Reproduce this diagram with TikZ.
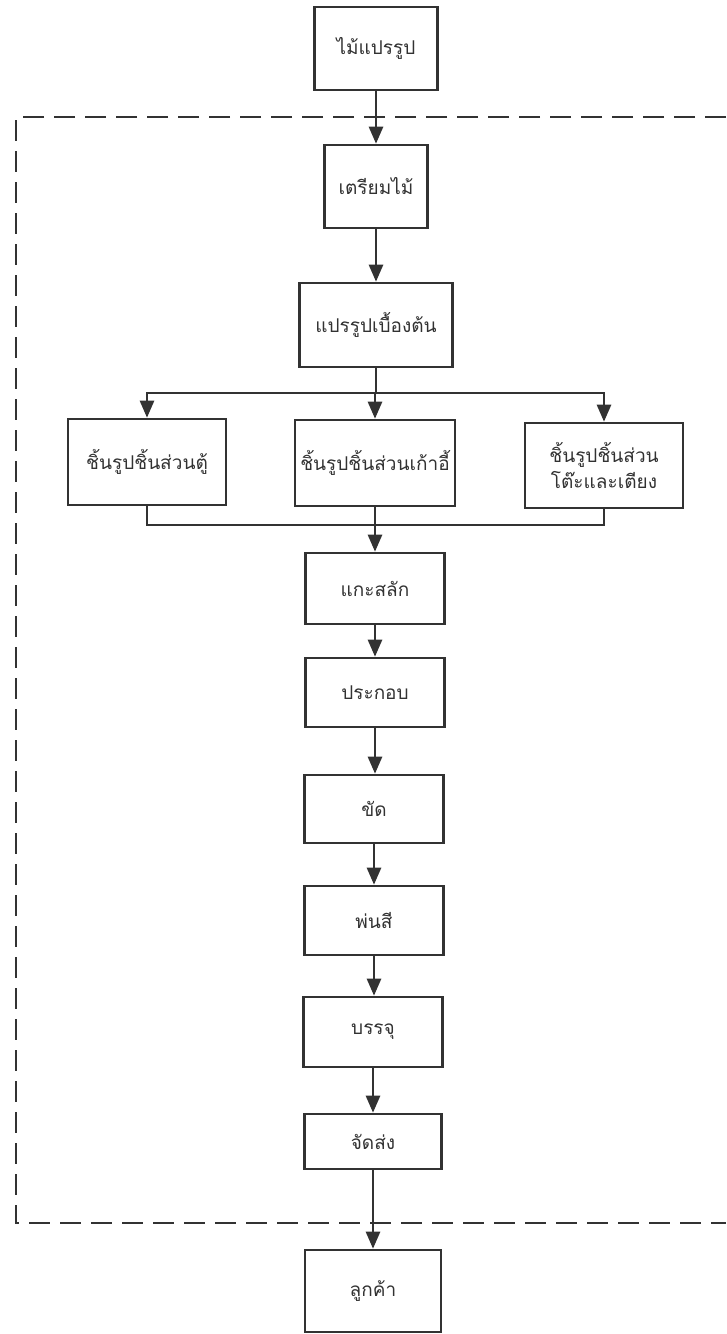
\documentclass[tikz,border=0pt]{standalone}
\usepackage{fontspec}
\newfontfamily\thaifont[Script=Thai]{Loma}
\usetikzlibrary{arrows.meta,positioning,calc}
\definecolor{Ink}{RGB}{50,50,50}

\begin{document}
\begin{tikzpicture} [x=1pt, y=-1pt,
       >={Triangle[length=17pt,width=14pt]}, Ink, text=Ink, line width=2.6pt,
	   every node/.style={font=\thaifont\fontsize{19}{26}\selectfont},
	   stepbox/.style 2 args = {rectangle, draw=Ink, line width=2.6pt,
	                            minimum width=#1, minimum height=#2,
	                            inner sep=0pt, align=center},
	   border/.style = {dashed, dash pattern=on 21pt off 10pt, line width=2.4pt}]
	\useasboundingbox (0,0) rectangle (726,1334);

	%% Process boundary
	\draw[border] (726,117) -- (16,117) -- (16,1223) -- (726,1223);

	%% Main chain
	\node [stepbox={123pt}{83pt}] (raw) at (376,48.5) {ไม้แปรรูป};
	\node [stepbox={103pt}{83pt}] (prep) at (376,186.5) {เตรียมไม้};
	\node [stepbox={153pt}{84pt}] (rough) at (376,325) {แปรรูปเบื้องต้น};

	%% Parts
	\node [stepbox={158pt}{86pt}] (partA) at (147,462) {ชิ้นรูปชิ้นส่วนตู้};
	\node [stepbox={160pt}{86pt}] (partB) at (375,463) {ชิ้นรูปชิ้นส่วนเก้าอี้};
	\node [stepbox={158pt}{85pt}] (partC) at (604,465.5) {ชิ้นรูปชิ้นส่วน\\โต๊ะและเตียง};

	%% Finishing
	\node [stepbox={139pt}{71pt}] (carve) at (375,588.5) {แกะสลัก};
	\node [stepbox={139pt}{69pt}] (assemble) at (375,692.5) {ประกอบ};
	\node [stepbox={139pt}{68pt}] (sand) at (374,809) {ขัด};
	\node [stepbox={139pt}{69pt}] (paint) at (374,920.5) {พ่นสี};
	\node [stepbox={139pt}{70pt}] (pack) at (373,1032) {บรรจุ};
	\node [stepbox={137pt}{55pt}] (ship) at (373,1141.5) {จัดส่ง};
	\node [stepbox={136pt}{82pt}] (customer) at (373,1291) {ลูกค้า};

	%% Split and join points
	\coordinate (split) at (376,393);
	\coordinate (join) at (375,525);

	%% Paths
	\draw[->] (raw) -- (prep);
	\draw[->] (prep) -- (rough);
	\draw[->] (rough.south) -- (split) -| (partA.north);
	\draw[->] (split) -| (partC.north);
	\draw[->] (split) -| (partB.north);
	\draw (partA.south) |- (join) -| (partC.south);
	\draw (partB.south) -- (join);
	\draw[->] (join) -- (carve.north);
	\draw[->] (carve) -- (assemble);
	\draw[->] (assemble.south) -- (assemble.south |- sand.north);
	\draw[->] (sand) -- (paint);
	\draw[->] (paint.south) -- (paint.south |- pack.north);
	\draw[->] (pack) -- (ship);
	\draw[->] (ship) -- (customer);
\end{tikzpicture}
\end{document}
